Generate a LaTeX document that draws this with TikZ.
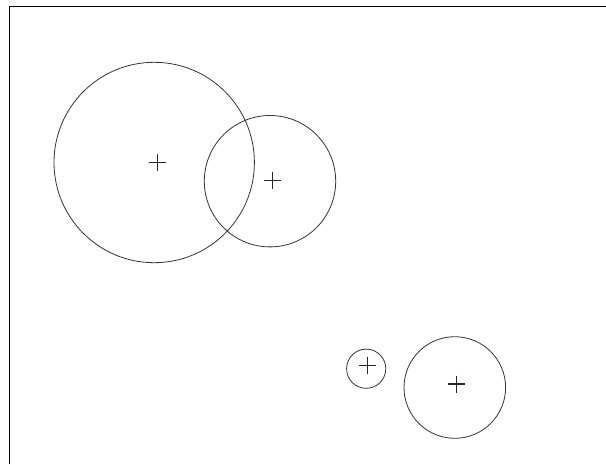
\documentclass[tikz,border=0pt]{standalone}
\usepackage{tikz}

\begin{document}
\begin{tikzpicture}[
  x=1pt, y=-1pt,
  frameline/.style={draw=black, line width=1pt},
  ring/.style={draw=black!80, line width=0.8pt},
  plusline/.style={draw=black!85, line width=1.1pt},
  pluscross/.pic={\draw[plusline] (-8.5,0) -- (8.5,0) (0,-8.5) -- (0,8.5);}]
  \useasboundingbox (0,0) rectangle (606,464);
  % frame
  \coordinate (fb) at (9.5,464);
  \coordinate (fc) at (9.5,6);
  \coordinate (fr) at (606,6);
  \draw[frameline] (fb) -- (fc) -- (fr);
  % big pair
  \coordinate (c1) at (154.2,162.5);
  \coordinate (c2) at (270,181.2);
  \draw[ring] (c1) circle[radius=100.2];
  \draw[ring] (c2) circle[radius=65.7];
  \pic at (157.5,162.5) {pluscross};
  \pic at (272.8,180.3) {pluscross};
  % small pair
  \coordinate (c3) at (366.2,368.7);
  \coordinate (c4) at (454.8,387.5);
  \draw[ring] (c3) circle[radius=19.6];
  \draw[ring] (c4) circle[radius=50.8];
  \pic at (367.5,365.5) {pluscross};
  \pic at (456.7,384) {pluscross};
\end{tikzpicture}
\end{document}
